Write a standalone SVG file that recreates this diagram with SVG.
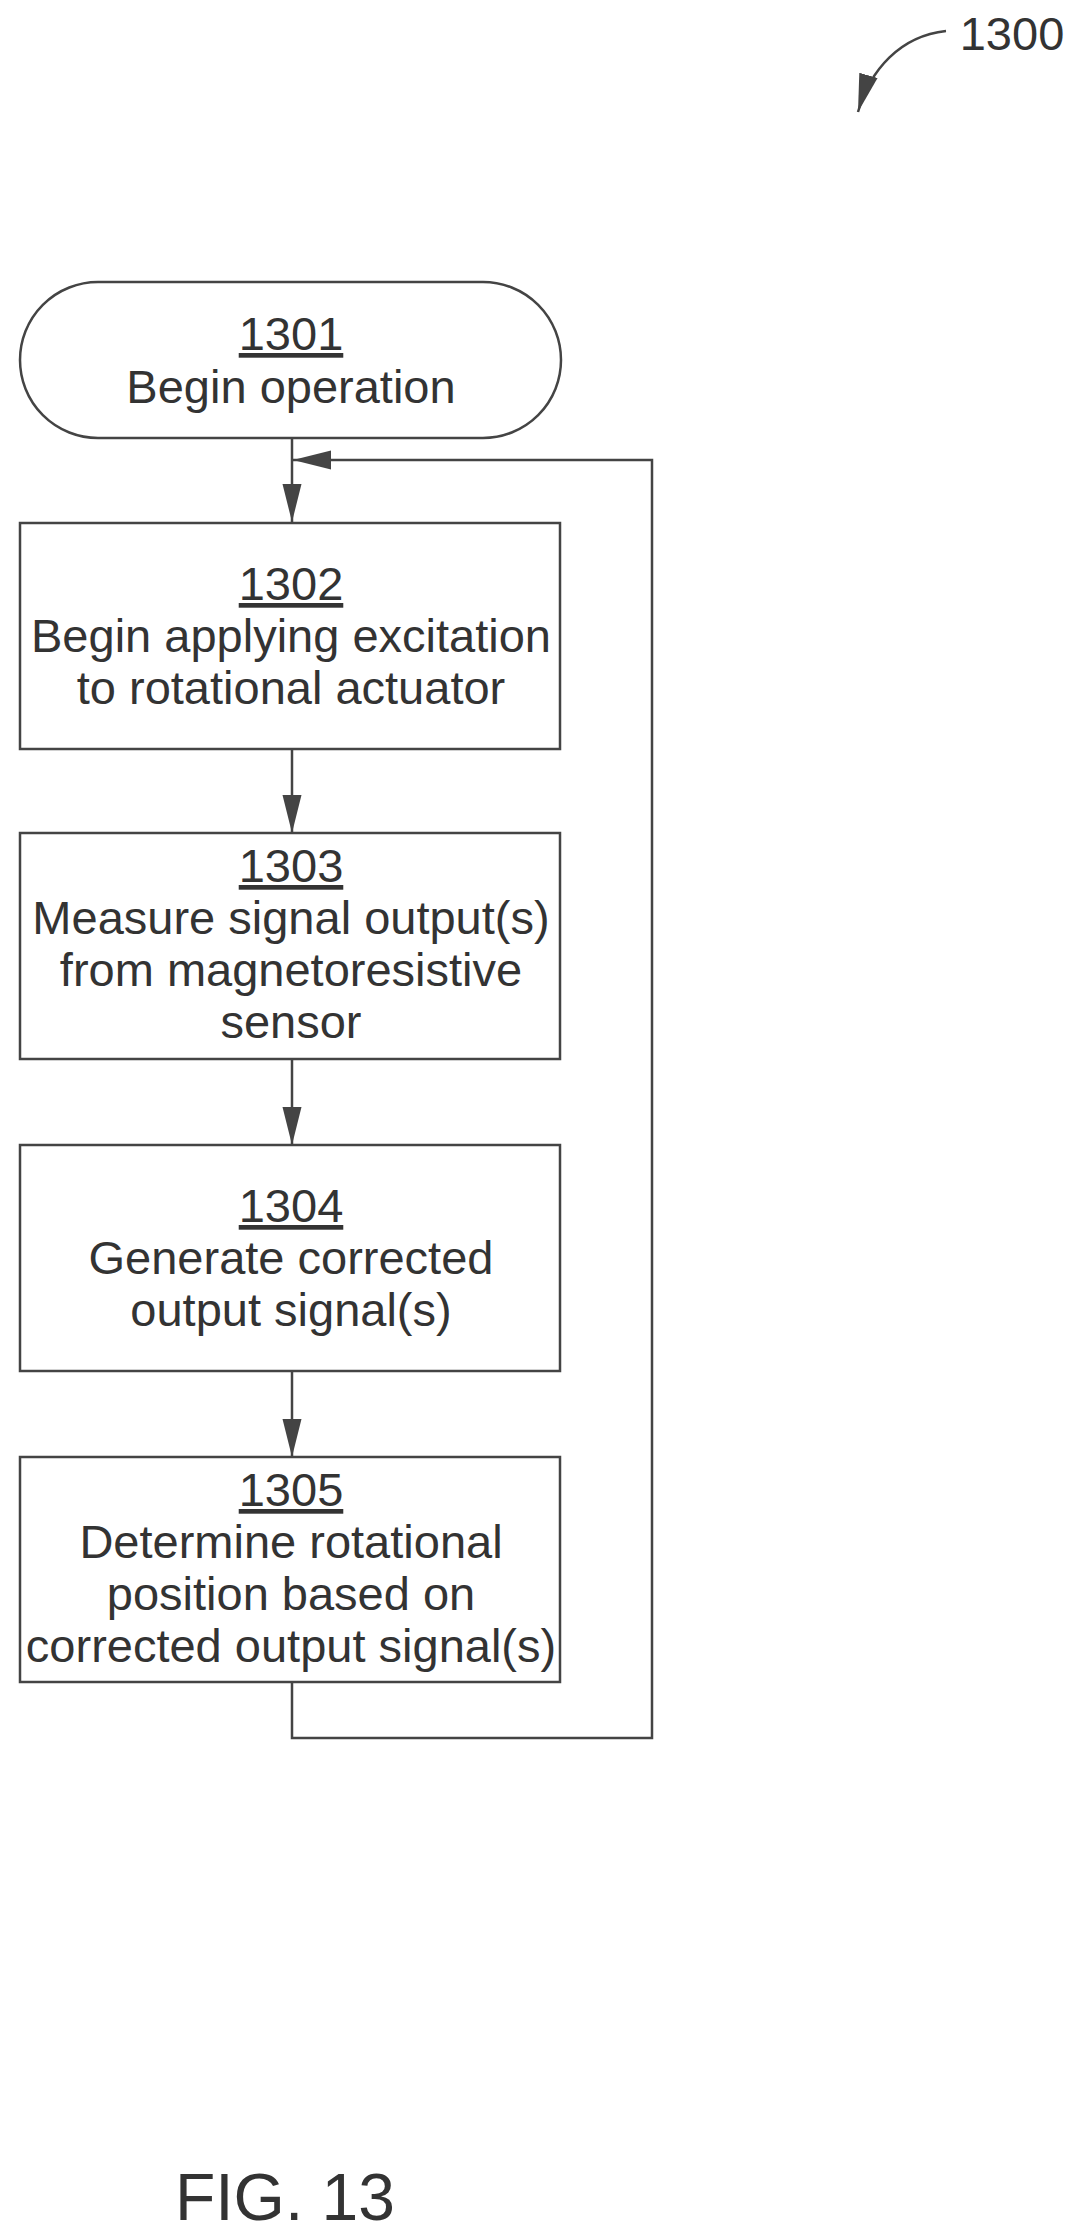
<svg xmlns="http://www.w3.org/2000/svg" width="1090" height="2237" viewBox="0 0 1090 2237">
<style>
.s{fill:#fff;stroke:#444;stroke-width:2.5}
.t{font-family:"Liberation Sans",Arial,sans-serif;font-size:47px;fill:#333;text-anchor:middle}
.c{fill:none;stroke:#444;stroke-width:2.5}
</style>
<defs>
<marker id="b" viewBox="0 0 10 10" refX="10" refY="5" markerWidth="38" markerHeight="38" markerUnits="userSpaceOnUse" orient="auto"><path d="M0,2.5L10,5L0,7.5z" fill="#444"/></marker>
</defs>
<g id="connectors">
<path class="c" d="M292,438V522" marker-end="url(#b)"/>
<path class="c" d="M292,749V833" marker-end="url(#b)"/>
<path class="c" d="M292,1059V1145" marker-end="url(#b)"/>
<path class="c" d="M292,1371V1457" marker-end="url(#b)"/>
<path class="c" d="M292,1682V1738H652V460H293" marker-end="url(#b)"/>
<path class="c" d="M946,31C900,36 870,70 858,112" marker-end="url(#b)"/>
</g>
<g id="n1301"><rect class="s" x="20" y="282" width="541" height="156" rx="78"/>
<text class="t" x="291" y="350" text-decoration="underline">1301</text><text class="t" x="291" y="403">Begin operation</text></g>
<g id="n1302"><rect class="s" x="20" y="523" width="540" height="226"/>
<text class="t" x="291" y="600" text-decoration="underline">1302</text><text class="t" x="291" y="652">Begin applying excitation</text><text class="t" x="291" y="704">to rotational actuator</text></g>
<g id="n1303"><rect class="s" x="20" y="833" width="540" height="226"/>
<text class="t" x="291" y="882" text-decoration="underline">1303</text><text class="t" x="291" y="934">Measure signal output(s)</text><text class="t" x="291" y="986">from magnetoresistive</text><text class="t" x="291" y="1038">sensor</text></g>
<g id="n1304"><rect class="s" x="20" y="1145" width="540" height="226"/>
<text class="t" x="291" y="1222" text-decoration="underline">1304</text><text class="t" x="291" y="1274">Generate corrected</text><text class="t" x="291" y="1326">output signal(s)</text></g>
<g id="n1305"><rect class="s" x="20" y="1457" width="540" height="225"/>
<text class="t" x="291" y="1506" text-decoration="underline">1305</text><text class="t" x="291" y="1558">Determine rotational</text><text class="t" x="291" y="1610">position based on</text><text class="t" x="291" y="1662">corrected output signal(s)</text></g>
<text class="t" x="1012" y="50">1300</text>
<text class="t" x="285" y="2220" style="font-size:66px">FIG. 13</text>
</svg>
